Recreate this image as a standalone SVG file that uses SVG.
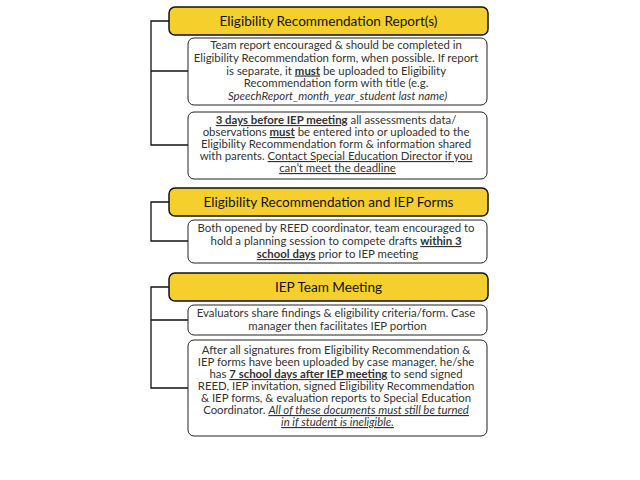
<svg xmlns="http://www.w3.org/2000/svg" width="640" height="480" viewBox="0 0 640 480">
<style>
.hdr{fill:#F5CF2C;stroke:#111;stroke-width:1.5}
.box{fill:#fff;stroke:#222;stroke-width:1}
.ht{font-family:Lato,"Liberation Sans",sans-serif;font-size:13.6px;fill:#111;text-anchor:middle}
.bt{font-family:Lato,"Liberation Sans",sans-serif;font-size:11.4px;fill:#333;text-anchor:middle}
.b{font-weight:bold;text-decoration:underline}
.u{text-decoration:underline}
.i{font-style:italic}
.conn{fill:none;stroke:#111;stroke-width:1.3}
</style>
<rect width="640" height="480" fill="#fff"/>
<g id="connectors">
<path class="conn" d="M169,21 H151 V145 H188 M151,71 H188"/>
<path class="conn" d="M169,202 H151 V241 H188"/>
<path class="conn" d="M169,287 H151 V388 H188 M151,320 H188"/>
</g>
<g id="h1">
<rect class="hdr" x="169" y="7" width="319" height="28" rx="6"/>
<text class="ht" x="328.5" y="26">Eligibility Recommendation Report(s)</text>
</g>
<g id="b1">
<rect class="box" x="188" y="38" width="299" height="67" rx="6"/>
<text class="bt">
<tspan x="337.5" y="48.5">Team report encouraged &amp; should be completed in</tspan>
<tspan x="337.5" y="61.5">Eligibility Recommendation form, when possible. If report</tspan>
<tspan x="337.5" y="74.5">is separate, it <tspan class="b">must</tspan> be uploaded to Eligibility</tspan>
<tspan x="337.5" y="87">Recommendation form with title (e.g.</tspan>
<tspan x="337.5" y="100" class="i">SpeechReport_month_year_student last name)</tspan>
</text>
</g>
<g id="b2">
<rect class="box" x="188" y="112" width="299" height="67" rx="6"/>
<text class="bt">
<tspan x="337.5" y="124"><tspan class="b">3 days before IEP meeting</tspan> all assessments data/</tspan>
<tspan x="337.5" y="136">observations <tspan class="b">must</tspan> be entered into or uploaded to the</tspan>
<tspan x="337.5" y="148">Eligibility Recommendation form &amp; information shared</tspan>
<tspan x="337.5" y="160">with parents. <tspan class="u">Contact Special Education Director if you</tspan></tspan>
<tspan x="337.5" y="172" class="u">can’t meet the deadline</tspan>
</text>
</g>
<g id="h2">
<rect class="hdr" x="169" y="188" width="319" height="28" rx="6"/>
<text class="ht" x="328.5" y="207">Eligibility Recommendation and IEP Forms</text>
</g>
<g id="b3">
<rect class="box" x="188" y="220" width="299" height="43" rx="6"/>
<text class="bt">
<tspan x="337.5" y="232">Both opened by REED coordinator, team encouraged to</tspan>
<tspan x="337.5" y="245">hold a planning session to compete drafts <tspan class="b">within 3</tspan></tspan>
<tspan x="337.5" y="258"><tspan class="b">school days</tspan> prior to IEP meeting</tspan>
</text>
</g>
<g id="h3">
<rect class="hdr" x="169" y="273" width="319" height="28" rx="6"/>
<text class="ht" x="328.5" y="292">IEP Team Meeting</text>
</g>
<g id="b4">
<rect class="box" x="188" y="305" width="299" height="30" rx="6"/>
<text class="bt">
<tspan x="337.5" y="317">Evaluators share findings &amp; eligibility criteria/form. Case</tspan>
<tspan x="337.5" y="330">manager then facilitates IEP portion</tspan>
</text>
</g>
<g id="b5">
<rect class="box" x="188" y="340" width="299" height="96" rx="6"/>
<text class="bt">
<tspan x="337.5" y="354">After all signatures from Eligibility Recommendation &amp;</tspan>
<tspan x="337.5" y="366">IEP forms have been uploaded by case manager, he/she</tspan>
<tspan x="337.5" y="378">has <tspan class="b">7 school days after IEP meeting</tspan> to send signed</tspan>
<tspan x="337.5" y="390">REED, IEP invitation, signed Eligibility Recommendation</tspan>
<tspan x="337.5" y="402">&amp; IEP forms, &amp; evaluation reports to Special Education</tspan>
<tspan x="337.5" y="414">Coordinator. <tspan class="i u">All of these documents must still be turned</tspan></tspan>
<tspan x="337.5" y="426" class="i u">in if student is ineligible.</tspan>
</text>
</g>
</svg>
